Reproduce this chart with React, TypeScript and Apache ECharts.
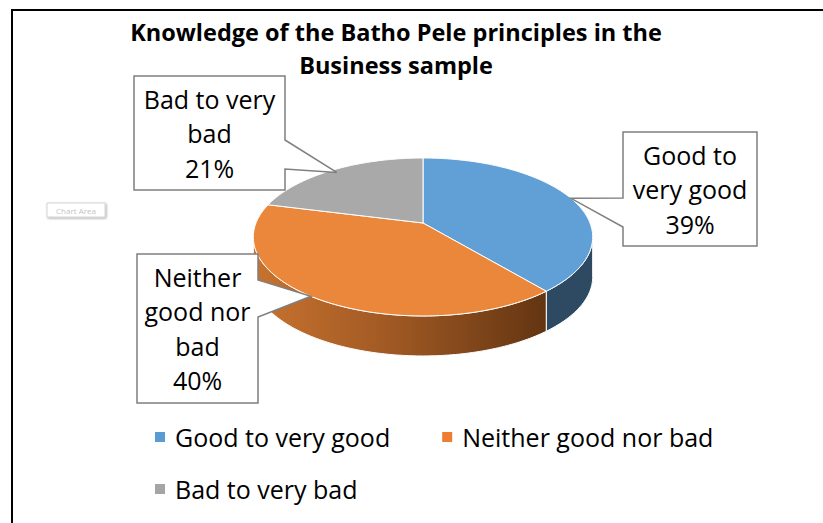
import React, { useEffect, useRef } from "react";
import * as echarts from "echarts";

// ---------- data ----------
const titleLines = ["Knowledge of the Batho Pele principles in the", "Business sample"];
const categories = ["Good to very good", "Neither good nor bad", "Bad to very bad"];
const values = [39, 40, 21];
const labelLines = [["Good to", "very good"], ["Neither", "good nor", "bad"], ["Bad to very", "bad"]];

// ---------- styles / layout ----------
const FONT = "'Open Sans', Lato, 'Noto Sans', sans-serif";
const legendColors = ["#5b9bd5", "#ed7d31", "#a5a5a5"];
const topColors = ["#60a0d7", "#eb873a", "#a9a9a9"];
const wallFills: any[] = [
  "#2e4a62",
  {
    type: "linear", x: 0, y: 0, x2: 1, y2: 0,
    colorStops: [
      { offset: 0, color: "#c8732f" },
      { offset: 0.45, color: "#a25a24" },
      { offset: 1, color: "#633512" },
    ],
  },
  "#6e6e6e",
];
const PIE = { cx: 423, cy: 223, rx: 167, ry: 76.5, k: 0.177, depth: 40 };
const callouts = [
  { box: [623, 132, 134, 114], side: "left", base: [198, 227], tipAngle: 70, tipR: 1.0 },
  { box: [137, 254, 121, 149], side: "right", base: [280, 317], tipAngle: 215, tipR: 1.0 },
  { box: [134, 76, 151, 114], side: "right", base: [140, 169], tipAngle: 322, tipR: 0.95 },
];

function proj(deg: number, r = 1, dy = 0): number[] {
  const t = (deg * Math.PI) / 180;
  const X = Math.sin(t) * r;
  const Z = Math.cos(t) * r;
  const s = 1 / (1 + PIE.k * Z);
  return [PIE.cx + PIE.rx * X * s, PIE.cy - PIE.ry * Z * s + dy];
}

const SIL = (Math.acos(-PIE.k) * 180) / Math.PI; // silhouette angle (right)
const WALL_LO = SIL;
const WALL_HI = 360 - SIL;

function makeRender(i: number) {
  return (_params: any, api: any) => {
    const total = values.reduce((a, b) => a + b, 0);
    const before = values.slice(0, i).reduce((a, b) => a + b, 0);
    const v = api.value(0);
    const start = (before / total) * 360;
    const end = start + (v / total) * 360;
    const children: any[] = [];

    // top face
    const pts: number[][] = [proj(0, 0)];
    for (let a = start; a < end; a += 1) pts.push(proj(a));
    pts.push(proj(end));
    children.push({
      type: "polygon",
      shape: { points: pts },
      style: { fill: topColors[i], stroke: "#ffffff", lineWidth: 1 },
      z2: 10,
    });

    // front wall
    const a0 = Math.max(start, WALL_LO);
    const b0 = Math.min(end, WALL_HI);
    if (b0 > a0) {
      const w: number[][] = [];
      for (let a = a0; a < b0; a += 1) w.push(proj(a));
      w.push(proj(b0));
      w.push(proj(b0, 1, PIE.depth));
      for (let a = b0; a > a0; a -= 1) w.push(proj(a, 1, PIE.depth));
      w.push(proj(a0, 1, PIE.depth));
      children.push({
        type: "polygon",
        shape: { points: w },
        style: { fill: wallFills[i], stroke: "#ffffff", lineWidth: 1 },
        z2: 1,
      });
    }

    // callout label
    const c = callouts[i];
    const [x, y, bw, bh] = c.box;
    const tip = proj(c.tipAngle, c.tipR);
    let poly: number[][];
    if (c.side === "right") {
      poly = [[x, y], [x + bw, y], [x + bw, c.base[0]], tip, [x + bw, c.base[1]], [x + bw, y + bh], [x, y + bh]];
    } else {
      poly = [[x, y], [x + bw, y], [x + bw, y + bh], [x, y + bh], [x, c.base[1]], tip, [x, c.base[0]]];
    }
    children.push({
      type: "polygon",
      shape: { points: poly },
      style: { fill: "#ffffff", stroke: "#7f7f7f", lineWidth: 1.5 },
      z2: 20,
    });
    children.push({
      type: "text",
      x: x + bw / 2,
      y: y + bh / 2,
      style: {
        text: [...labelLines[i], `${v}%`].join("\n"),
        fontFamily: FONT,
        fontSize: 25,
        lineHeight: 34.5,
        fill: "#000000",
        align: "center",
        verticalAlign: "middle",
      },
      z2: 21,
    });

    return { type: "group", children };
  };
}

export default function App() {
  const ref = useRef<HTMLDivElement>(null);
  useEffect(() => {
    if (!ref.current) return;
    const chart = echarts.init(ref.current, undefined, { renderer: "svg" });
    const legendBase = {
      orient: "horizontal",
      icon: "rect",
      itemWidth: 10,
      itemHeight: 10,
      itemGap: 52,
      selectedMode: false,
      textStyle: { fontFamily: FONT, fontSize: 25, color: "#000", lineHeight: 28, padding: [0, 0, 0, 5] },
    };
    chart.setOption({
      animation: false,
      backgroundColor: "#ffffff",
      title: {
        text: titleLines.join("\n"),
        left: 391,
        top: 10,
        textAlign: "center",
        textStyle: { fontFamily: FONT, fontSize: 23.5, fontWeight: "bold", color: "#000", lineHeight: 33 },
      },
      legend: [
        { ...legendBase, data: categories.slice(0, 2), left: 150, top: 418 },
        { ...legendBase, data: categories.slice(2), left: 150, top: 470 },
      ],
      graphic: [
        {
          type: "rect",
          shape: { x: 12, y: 10, width: 900, height: 700 },
          style: { fill: "none", stroke: "#000", lineWidth: 2 },
          z: 0,
        },
        {
          type: "rect",
          shape: { x: 47, y: 203, width: 58, height: 14 },
          style: {
            fill: "#ffffff", stroke: "#d4d4d4", lineWidth: 1,
            shadowBlur: 2, shadowOffsetX: 1, shadowOffsetY: 1, shadowColor: "rgba(0,0,0,0.35)",
          },
          z: 5,
        },
        {
          type: "text",
          x: 76,
          y: 210,
          style: { text: "Chart Area", fontFamily: FONT, fontSize: 8, fill: "#c4c4c4", align: "center", verticalAlign: "middle" },
          z: 6,
        },
      ],
      series: categories.map((name, i) => ({
        type: "custom",
        name,
        coordinateSystem: "none",
        itemStyle: { color: legendColors[i] },
        data: [[values[i]]],
        renderItem: makeRender(i),
        silent: true,
      })),
    });
    return () => chart.dispose();
  }, []);
  return <div ref={ref} style={{ position: "fixed", left: 0, top: 0, width: 823, height: 523 }} />;
}
